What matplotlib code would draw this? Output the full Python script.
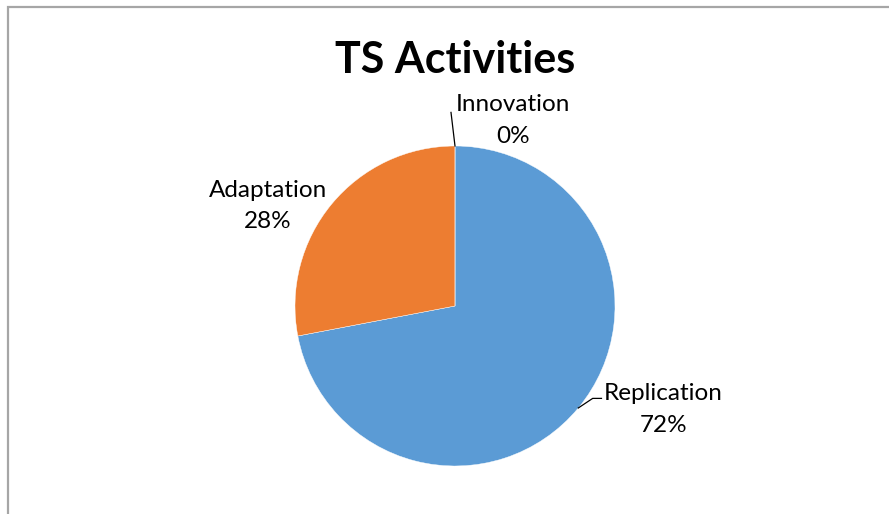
import numpy as np
import matplotlib.pyplot as plt
from matplotlib.patches import Rectangle

labels = ['Replication', 'Adaptation', 'Innovation']
values = [72, 28, 0]
colors = ['#5B9BD5', '#ED7D31', '#A5A5A5']

W, H = 889, 514
fig = plt.figure(figsize=(W / 100, H / 100), dpi=100)
plt.rcParams['font.family'] = ['Lato', 'DejaVu Sans']

# chart frame (extends past right/bottom edge like the cropped screenshot)
fig.patches.append(Rectangle((8 / W, -0.05), 1.0, 1 - 7 / H + 0.05, transform=fig.transFigure,
                             fill=False, edgecolor='#a6a6a6', linewidth=1.6))

fig.text(455 / W, 1 - 60 / H, 'TS Activities', ha='center', va='center',
         fontsize=31, fontweight='bold')

cx, cy, r = 455, 514 - 306, 160
ax = fig.add_axes([(cx - r) / W, (cy - r) / H, 2 * r / W, 2 * r / H])
wedges, _ = ax.pie(values, colors=colors, startangle=90, counterclock=False,
                   wedgeprops=dict(linewidth=0.3, edgecolor='white'))
ax.set_xlim(-1, 1)
ax.set_ylim(-1, 1)
ax.set_aspect('equal')
ax.set_clip_on(False)

total = sum(values)
for w, lab, v in zip(wedges, labels, values):
    mid = np.deg2rad((w.theta1 + w.theta2) / 2)
    ex, ey = np.cos(mid), np.sin(mid)
    txt = f'{lab}\n{round(100 * v / total)}%'
    kw = dict(ha='center', va='center', fontsize=17.5, linespacing=1.6)
    if lab == 'Replication':
        ax.plot([ex, ex + 0.09, ex + 0.145], [ey, ey + 0.06, ey + 0.06], color='black', lw=0.9, clip_on=False)
        ax.text(ex + 0.53, ey - 0.01, txt, **kw)
    elif lab == 'Adaptation':
        ax.text(ex - 0.40, ey - 0.01, txt, **kw)
    else:
        ax.plot([ex, ex - 0.025], [ey, ey + 0.21], color='black', lw=0.9, clip_on=False)
        ax.text(ex + 0.36, ey + 0.16, txt, **kw)

fig.savefig('out.png', dpi=100)
